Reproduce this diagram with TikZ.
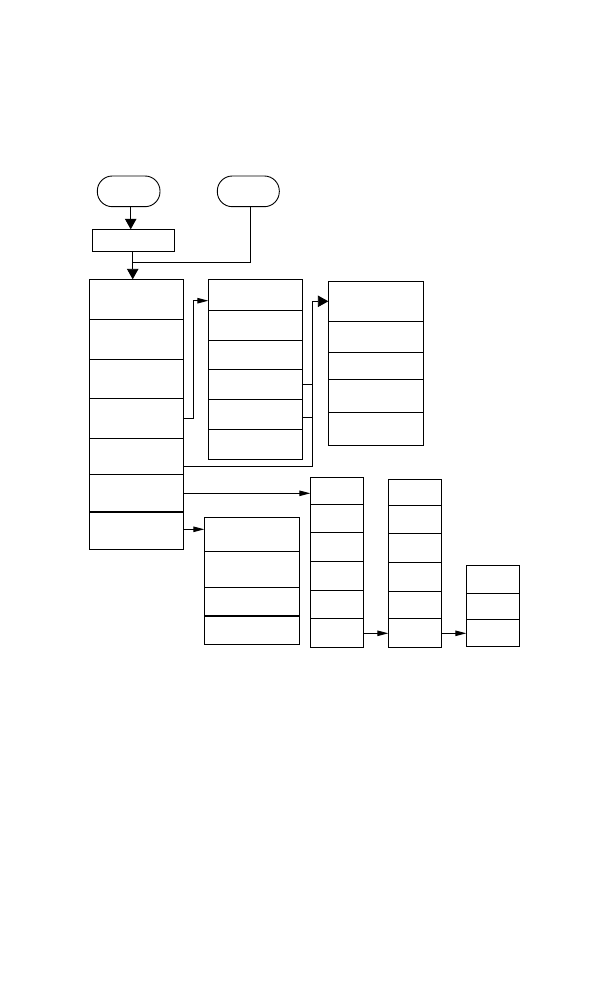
\documentclass[tikz,border=0pt]{standalone}
\usetikzlibrary{fit,arrows.meta}
\tikzset{
  x=1pt,y=-1pt,
  line/.style={line width=0.9pt,line join=miter},
  cellbox/.style={draw,line width=0.9pt,inner sep=0pt,outer sep=0pt},
  ovalbox/.style={cellbox,rounded corners=15pt},
  thickdiv/.style={line width=1.8pt},
  slim/.style={line width=0.9pt,-{Triangle[length=11pt,width=5.5pt]}},
  wide/.style={line width=0.9pt,-{Triangle[length=10.5pt,width=11.5pt]}},
}
\newcommand\mycell[5]{\node[cellbox,fit={(#2,#3) (#4,#5)}] (#1) {};}
\begin{document}
\begin{tikzpicture}
\useasboundingbox (0,0) rectangle (612,1008);
% start ovals and first box
\node[ovalbox,fit={(97.3,176) (160,206.7)}] (o1) {};
\node[ovalbox,fit={(217.3,176) (279.3,206.7)}] (o2) {};
\mycell{r1}{92.3}{229.3}{174.7}{251.3}
% column 1
\mycell{c1a}{89.3}{279.3}{183.7}{319.3}
\mycell{c1b}{89.3}{319.3}{183.7}{359.3}
\mycell{c1c}{89.3}{359.3}{183.7}{398.3}
\mycell{c1d}{89.3}{398.3}{183.7}{438.3}
\mycell{c1e}{89.3}{438.3}{183.7}{474.3}
\mycell{c1f}{89.3}{474.3}{183.7}{512}
\mycell{c1g}{89.3}{512}{183.7}{549.3}
\draw[thickdiv] (c1g.north west) -- (c1g.north east);
% column 2
\mycell{c2a}{208.3}{279.3}{302.3}{310.3}
\mycell{c2b}{208.3}{310.3}{302.3}{340.3}
\mycell{c2c}{208.3}{340.3}{302.3}{369.3}
\mycell{c2d}{208.3}{369.3}{302.3}{399.3}
\mycell{c2e}{208.3}{399.3}{302.3}{429.3}
\mycell{c2f}{208.3}{429.3}{302.3}{459.3}
% column 3
\mycell{c3a}{328.3}{281.3}{423.3}{321.3}
\mycell{c3b}{328.3}{321.3}{423.3}{352.3}
\mycell{c3c}{328.3}{352.3}{423.3}{379.3}
\mycell{c3d}{328.3}{379.3}{423.3}{412.3}
\mycell{c3e}{328.3}{412.3}{423.3}{445.3}
% column 4
\mycell{c4a}{310.3}{477.3}{363.3}{504.3}
\mycell{c4b}{310.3}{504.3}{363.3}{532.3}
\mycell{c4c}{310.3}{532.3}{363.3}{561.3}
\mycell{c4d}{310.3}{561.3}{363.3}{590.3}
\mycell{c4e}{310.3}{590.3}{363.3}{618.3}
\mycell{c4f}{310.3}{618.3}{363.3}{647}
% column 5
\mycell{c5a}{204.3}{517.3}{299.3}{551.3}
\mycell{c5b}{204.3}{551.3}{299.3}{587.3}
\mycell{c5c}{204.3}{587.3}{299.3}{615.7}
\mycell{c5d}{204.3}{615.7}{299.3}{644}
\draw[thickdiv] (c5d.north west) -- (c5d.north east);
% column 6
\mycell{c6a}{388.3}{479.3}{441.3}{505.3}
\mycell{c6b}{388.3}{505.3}{441.3}{533.3}
\mycell{c6c}{388.3}{533.3}{441.3}{562.3}
\mycell{c6d}{388.3}{562.3}{441.3}{591.3}
\mycell{c6e}{388.3}{591.3}{441.3}{618.3}
\mycell{c6f}{388.3}{618.3}{441.3}{647}
% column 7
\mycell{c7a}{466.3}{565.3}{519.3}{593.3}
\mycell{c7b}{466.3}{593.3}{519.3}{619.3}
\mycell{c7c}{466.3}{619.3}{519.3}{646}
% helper coordinates
\coordinate (j) at (132.7,262.3);
\coordinate (k1) at (193.3,300.7);
\coordinate (v1) at (312.3,301.3);
\coordinate (v2) at (312.3,466.7);
% connectors
\draw[wide] (o1.south -| 130.7,0) -- (130.7,229.3);
\draw[wide] (r1.south -| j) -- (j |- c1a.north);
\draw[line] (o2.south -| 250,0) |- (j);
\draw[slim] (c1d.east) -| (k1) -- (k1 -| c2a.west);
\draw[line] (c2d.east) -- (c2d.east -| v1);
\draw[line] (312.3,417) -- (c2e.east |- 0,417);
\draw[line] (v2 -| c1e.east) -- (v2) -- (v1);
\draw[wide] (v1) -- (v1 -| c3a.west);
\draw[slim] (c1f.east |- 0,493.3) -- (c4a.west |- 0,493.3);
\draw[slim] (c1g.east |- 0,529.3) -- (c5a.west |- 0,529.3);
\draw[slim] (c4f.east |- 0,633.3) -- (c6f.west |- 0,633.3);
\draw[slim] (c6f.east |- 0,633.3) -- (c7c.west |- 0,633.3);
\end{tikzpicture}
\end{document}
